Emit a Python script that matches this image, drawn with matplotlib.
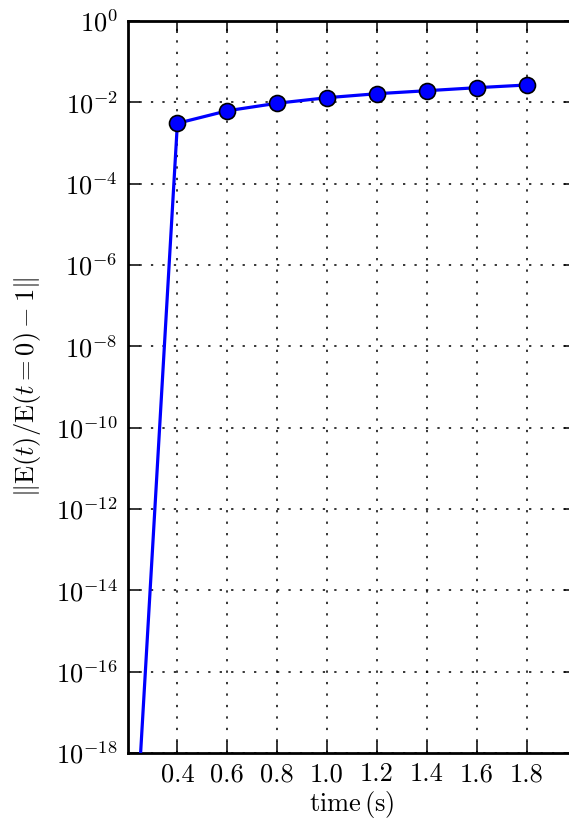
import matplotlib
matplotlib.use('Agg')
import matplotlib.pyplot as plt

# time samples and relative energy error
time = [0.2, 0.4, 0.6, 0.8, 1.0, 1.2, 1.4, 1.6, 1.8]
energy_err = [3e-24, 3.05e-3, 6.2e-3, 9.5e-3, 1.30e-2, 1.63e-2, 1.93e-2, 2.29e-2, 2.67e-2]
xtick_vals = [0.4, 0.6, 0.8, 1.0, 1.2, 1.4, 1.6, 1.8]

plt.rcParams['font.family'] = 'serif'
plt.rcParams['font.serif'] = ['cmr10']
plt.rcParams['mathtext.fontset'] = 'cm'
plt.rcParams['axes.unicode_minus'] = False
plt.rcParams['axes.formatter.use_mathtext'] = True

fig = plt.figure(figsize=(5.69, 8.22), dpi=100)
# right spine sits just outside the figure, as in the cropped original
ax = fig.add_axes([127.5 / 569, 69 / 822, 449 / 569, 732 / 822])

ax.plot(time, energy_err, color='blue', linewidth=2.3, zorder=3)
ax.plot(time[1:], energy_err[1:], 'o', color='blue', markersize=11.5,
        markeredgecolor='black', markeredgewidth=1.2, zorder=4)

ax.set_yscale('log')
ax.set_ylim(1e-18, 1e0)
ax.set_xlim(0.2, 2.0)
ax.set_yticks([10.0 ** -k for k in range(0, 19, 2)])
ax.minorticks_off()
ax.set_xticks(xtick_vals)
ax.set_xticklabels(['%.1f' % v for v in xtick_vals])

ax.grid(True, color='black', linestyle=(0, (1.5, 6)), linewidth=1.1)
ax.tick_params(direction='in', length=8.5, width=1.1, labelsize=19,
               top=True, right=True, pad=7)
for s in ax.spines.values():
    s.set_linewidth(2)

ax.set_xlabel(r'time$\,$(s)', fontsize=19, labelpad=2)
ax.set_ylabel(r'$\|\mathrm{E}(t)/\mathrm{E}(t=0)-1\|$', fontsize=19, labelpad=9)

fig.savefig('out.png', dpi=100)
